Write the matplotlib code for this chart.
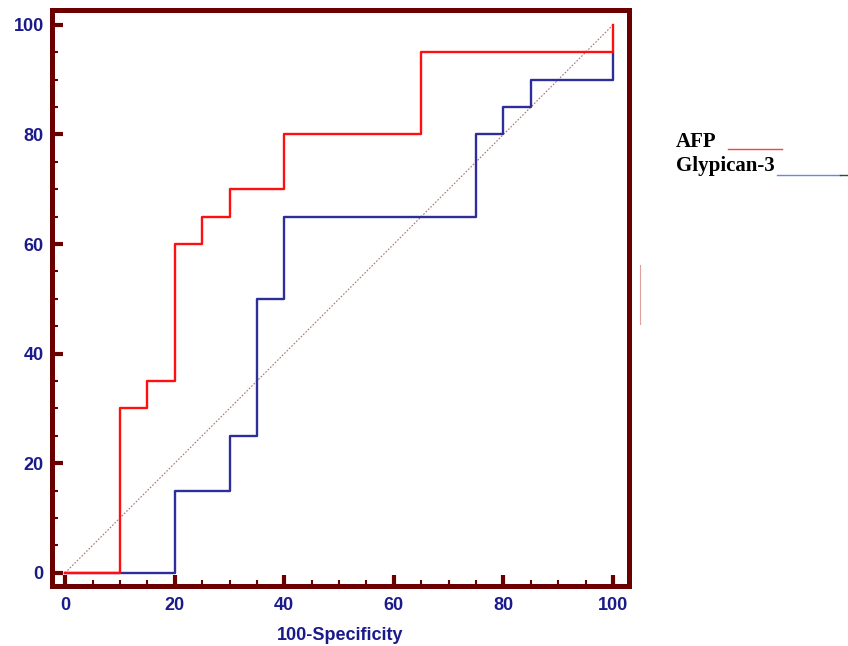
import matplotlib.pyplot as plt
from matplotlib.lines import Line2D
from matplotlib.ticker import MultipleLocator

# ROC step curves (100-Specificity, Sensitivity)
afp_x = [0, 10, 10, 15, 15, 20, 20, 25, 25, 30, 30, 40, 40, 65, 65, 100, 100]
afp_y = [0, 0, 30, 30, 35, 35, 60, 60, 65, 65, 70, 70, 80, 80, 95, 95, 100]

gpc3_x = [0, 20, 20, 30, 30, 35, 35, 40, 40, 75, 75, 80, 80, 85, 85, 100, 100]
gpc3_y = [0, 0, 15, 15, 25, 25, 50, 50, 65, 65, 80, 80, 85, 85, 90, 90, 95]

ticks = [0, 20, 40, 60, 80, 100]
legend_labels = ['AFP', 'Glypican-3']

spine_col = '#6b0000'
label_col = '#1a1a8a'

fig = plt.figure(figsize=(8.48, 6.46), dpi=100)
ax = fig.add_axes([0.0613, 0.0929, 0.6804, 0.8916])

ax.plot([0, 100], [0, 100], color='#b07070', lw=0.8, ls=(0, (1.5, 1.5)), zorder=1)
ax.plot(gpc3_x, gpc3_y, color='#2e2e9a', lw=1.7, zorder=2)
ax.plot(afp_x, afp_y, color='#ff1010', lw=1.7, zorder=3)

ax.set_xlim(-2.4, 102.9)
ax.set_ylim(-2.4, 102.7)

for s in ax.spines.values():
    s.set_color(spine_col)
    s.set_linewidth(3.6)

ax.set_xticks(ticks)
ax.set_yticks(ticks)
ax.xaxis.set_minor_locator(MultipleLocator(5))
ax.yaxis.set_minor_locator(MultipleLocator(5))
ax.tick_params(which='major', direction='in', length=8, width=3,
               color=spine_col, top=False, right=False, pad=8,
               labelcolor=label_col, labelsize=13)
ax.tick_params(axis='y', which='major', pad=6)
ax.tick_params(which='minor', direction='in', length=4.5, width=1.5,
               color=spine_col, top=False, right=False)
for lab in ax.get_xticklabels() + ax.get_yticklabels():
    lab.set_fontweight('bold')
    lab.set_fontfamily('Liberation Sans')

ax.set_xlabel('100-Specificity', color=label_col, fontsize=13,
              fontweight='bold', family='Liberation Sans', labelpad=9)

# legend written as text followed by short coloured rules
fig.text(676 / 848, 1 - 142 / 646, legend_labels[0], family='Liberation Serif',
         fontweight='bold', fontsize=15, va='center', ha='left')
fig.text(676 / 848, 1 - 166 / 646, legend_labels[1], family='Liberation Serif',
         fontweight='bold', fontsize=15, va='center', ha='left')
fig.add_artist(Line2D([728 / 848, 782 / 848], [1 - 149 / 646] * 2,
                      color='#ff4040', lw=1.0))
fig.add_artist(Line2D([777 / 848, 840 / 848], [1 - 175 / 646] * 2,
                      color='#6090d0', lw=1.0))
fig.add_artist(Line2D([840 / 848, 848 / 848], [1 - 175 / 646] * 2,
                      color='#404040', lw=1.0))
fig.add_artist(Line2D([640 / 848] * 2, [1 - 265 / 646, 1 - 324 / 646],
                      color='#e0a0a0', lw=0.8))

fig.savefig('out.png', dpi=100)
